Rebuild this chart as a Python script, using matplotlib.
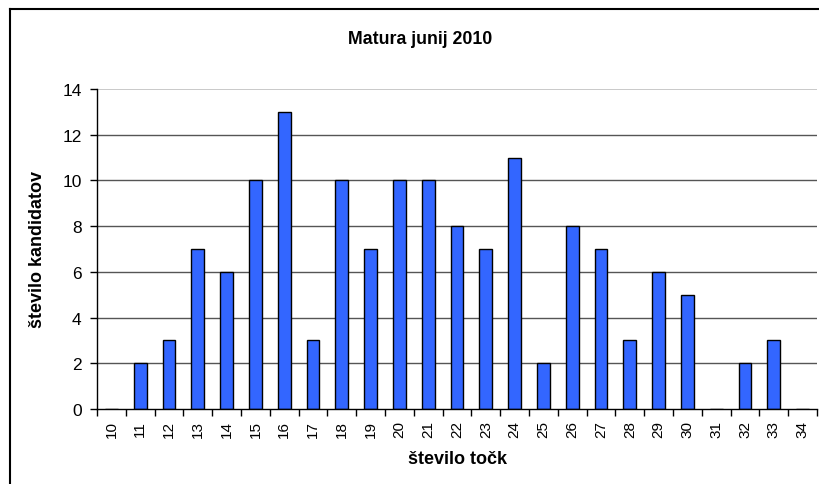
import matplotlib
matplotlib.use("Agg")
import matplotlib.pyplot as plt
from matplotlib.lines import Line2D

plt.rcParams['font.family'] = ['Liberation Sans', 'DejaVu Sans']

categories = [str(c) for c in range(10, 35)]
values = [0, 2, 3, 7, 6, 10, 13, 3, 10, 7, 10, 10, 8, 7, 11, 2, 8, 7, 3, 6, 5, 0, 2, 3, 0]
y_ticks = [0, 2, 4, 6, 8, 10, 12, 14]

W, H = 819, 485
fig = plt.figure(figsize=(W / 100, H / 100), dpi=100)
ax = fig.add_axes([97 / W, 1 - 410 / H, (817 - 97) / W, (410 - 90) / H])

x = list(range(len(categories)))
ax.bar(x, values, width=0.45, color='#3366FF', edgecolor='black', linewidth=1, zorder=3)

ax.set_xlim(-0.5, len(categories) - 0.5)
ax.set_ylim(0, 14)
ax.set_yticks(y_ticks)
ax.set_yticklabels([str(v) for v in y_ticks], fontsize=12.5)
ax.set_xticks(x)
ax.set_xticklabels(categories, rotation=90, fontsize=11)
ax.tick_params(axis='x', which='major', length=0, pad=8)
ax.set_xticks([i - 0.5 for i in range(len(categories) + 1)], minor=True)
ax.tick_params(axis='x', which='minor', length=5, width=1, direction='out', color='black')
ax.tick_params(axis='y', length=5, width=1, direction='out', pad=6)

for v in y_ticks[1:-1]:
    ax.axhline(v, color='#555555', linewidth=1, zorder=1)
ax.axhline(14, color='#C0C0C0', linewidth=1.2, zorder=1)

for s in ['top', 'right']:
    ax.spines[s].set_visible(False)
ax.spines['left'].set_linewidth(1)
ax.spines['bottom'].set_linewidth(1)
ax.spines['left'].set_zorder(4)
ax.spines['bottom'].set_zorder(4)

fig.text(457 / W, 1 - 460 / H, 'število točk', fontsize=13, fontweight='bold',
         ha='center', va='center')
fig.text(38 / W, 1 - 250 / H, 'število kandidatov', fontsize=13, fontweight='bold',
         ha='center', va='center', rotation=90)
fig.text(420 / W, 1 - 40 / H, 'Matura junij 2010', fontsize=12.8, fontweight='bold',
         ha='center', va='center')

fig.add_artist(Line2D([9.5 / W, 9.5 / W], [0, 1 - 9.5 / H], color='black', linewidth=1.5,
                      transform=fig.transFigure))
fig.add_artist(Line2D([9.5 / W, 1], [1 - 9.5 / H, 1 - 9.5 / H], color='black', linewidth=1.5,
                      transform=fig.transFigure))

fig.savefig('out.png', dpi=100)
